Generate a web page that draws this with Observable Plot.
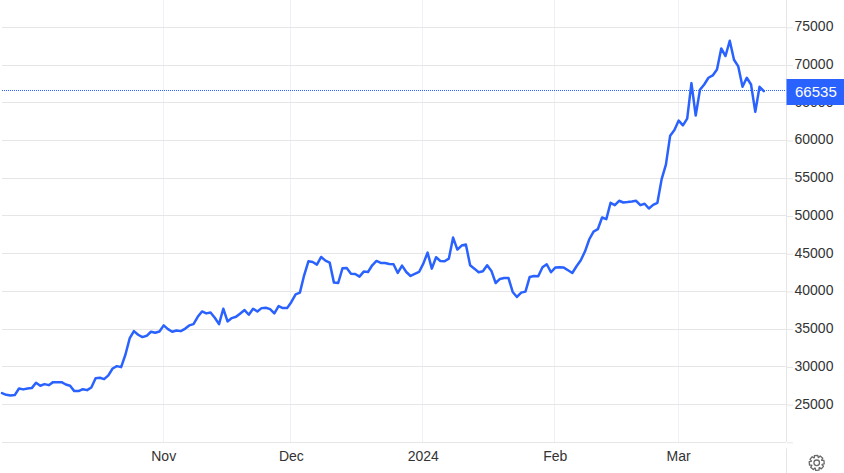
<!DOCTYPE html>
<html><head><meta charset="utf-8">
<script src="https://cdn.jsdelivr.net/npm/d3@7"></script>
<script src="https://cdn.jsdelivr.net/npm/@observablehq/plot@0.6"></script>
<style>html,body{margin:0;padding:0;background:#fff}svg{display:block}</style>
</head><body><div id="c"></div>
<script>
const startDate = "2023-09-24";
const prices = [26500,26280,26190,26240,27120,27000,27120,27170,27870,27480,27700,27560,27960,27960,27960,27650,27480,26770,26770,27030,26900,27250,28490,28540,28360,28850,29770,30080,29950,31590,33750,34720,34240,33930,34100,34640,34500,34680,35480,34990,34640,34810,34720,35030,35480,35650,36620,37330,37070,37200,36490,35650,37690,36010,36450,36620,37070,37510,36890,37690,37330,37770,37820,37640,37070,38040,37770,37770,38590,39600,39820,42120,43980,43890,43540,44550,44070,43800,41150,41100,43050,43090,42340,42300,41940,42610,42560,43450,44020,43760,43760,43620,43580,42430,43400,42560,42030,42300,42560,43670,45130,43000,44510,44020,43980,44330,47120,45530,46060,46190,43450,43000,42520,42650,43450,42700,41100,41640,41770,41770,39910,39250,39820,39960,41900,42030,41990,43180,43580,42520,43140,43180,43140,42780,42430,43320,44110,45300,46900,47920,48230,49780,49560,51730,51420,52000,51770,51820,51900,52000,51420,51600,50970,51460,51730,54870,56780,60630,61390,62630,62000,62890,67590,63290,66700,67410,68300,68610,69400,72190,71180,73210,70690,69800,67100,68300,67410,63780,67100,66535];
const yTicks = [20000,25000,30000,35000,40000,45000,50000,55000,60000,65000,70000,75000];
const yLabels = yTicks.slice(1);
const xTickDates = ["2023-11-01","2023-12-01","2024-01-01","2024-02-01","2024-03-01"];
const xTickLabels = ["Nov","Dec","2024","Feb","Mar"];
const lastPrice = 66535;
const blue = "#2962FF";
const font = "Liberation Sans, Arial, sans-serif";

const day = 864e5;
const t0 = Date.parse(startDate + "T00:00Z");
const series = prices.map((v,i)=>({date:new Date(t0+i*day),value:v}));
const xTicks = xTickDates.map(d=>new Date(d+"T00:00Z"));
const d0 = new Date("2023-09-24T03:00Z"), d1 = new Date("2024-03-26T08:00Z");
const dEnd = new Date(+d1 + 13.7*day);
const labelOf = new Map(xTicks.map((d,i)=>[+d,xTickLabels[i]]));

// settings icon: an outlined eight-toothed gear
const gearPts = [];
for (let i=0;i<8;i++){
  const a=i*Math.PI/4-Math.PI/8;
  for (const [r,o] of [[5.6,-0.06],[7.6,0.1],[7.6,0.68],[5.6,0.84]]) {
    const t=a+o*Math.PI/4;
    gearPts.push((9+r*Math.cos(t)).toFixed(2)+","+(9+r*Math.sin(t)).toFixed(2));
  }
}
const gearSvg = `<svg xmlns="http://www.w3.org/2000/svg" width="18" height="18"><polygon points="${gearPts.join(" ")}" fill="none" stroke="#6a6a6a" stroke-width="1.3" stroke-linejoin="round"/><circle cx="9" cy="9" r="2.8" fill="none" stroke="#6a6a6a" stroke-width="1.3"/></svg>`;
const gearSrc = "data:image/svg+xml;utf8," + encodeURIComponent(gearSvg);

const chart = Plot.plot({
  width:844,height:473,marginLeft:2,marginRight:58,marginTop:0,marginBottom:31,
  style:{fontFamily:font,fontSize:"14px",background:"#fff",overflow:"visible"},
  x:{type:"utc",domain:[d0,d1],label:null},
  y:{domain:[20040,78620],label:null},
  marks:[
    Plot.gridX(xTicks,{stroke:"#edf2f7",strokeOpacity:1}),
    Plot.gridY(yTicks,{stroke:"#e6e6e6",strokeOpacity:1}),
    Plot.ruleX([d1],{stroke:"#e6e6e6"}),
    Plot.ruleX([d1],{y1:19205,y2:15890,stroke:"#e6e6e6"}),
    Plot.axisY(yTicks,{anchor:"right",tickSize:6,stroke:"#e6e6e6",label:null,tickFormat:()=>""}),
    Plot.axisY(yLabels,{anchor:"right",tickSize:0,tickPadding:8,fill:"#333",fontSize:14,label:null,dy:-1,
      tickFormat:v=>String(v),textAnchor:"start"}),
    Plot.axisX(xTicks,{anchor:"bottom",tickSize:0,tickPadding:9,fill:"#333",fontSize:14,label:null,
      tickFormat:d=>labelOf.get(+d)}),
    Plot.ruleY([lastPrice],{x1:d0,x2:d1,stroke:blue,strokeDasharray:"1 1",dy:-1}),
    Plot.line(series,{x:"date",y:"value",stroke:blue,strokeWidth:2.5,curve:"linear",strokeLinejoin:"round",dy:-0.6}),
    Plot.ruleY([lastPrice],{x1:new Date(+d1+0.12*day),x2:dEnd,stroke:blue,strokeWidth:26,dy:0.5}),
    Plot.text([lastPrice],{y:d=>d,x:new Date(+d1+6.9*day),text:d=>String(d),fill:"#fff",fontSize:15,dy:0.5}),
    Plot.image([0],{x:new Date(+d1+7.1*day),y:17350,src:()=>gearSrc,width:18,height:18})
  ]
});
document.getElementById("c").append(chart);
// snap straight hairlines to whole pixels so they stay crisp
d3.select(chart).selectAll("line").each(function(){
  const l = d3.select(this);
  if (l.attr("y1")===l.attr("y2") && l.attr("y1")!==null) { const v=Math.floor(+l.attr("y1")); l.attr("y1",v).attr("y2",v); }
  if (l.attr("x1")===l.attr("x2") && l.attr("x1")!==null) { const v=Math.floor(+l.attr("x1")); l.attr("x1",v).attr("x2",v); }
});
</script></body></html>
